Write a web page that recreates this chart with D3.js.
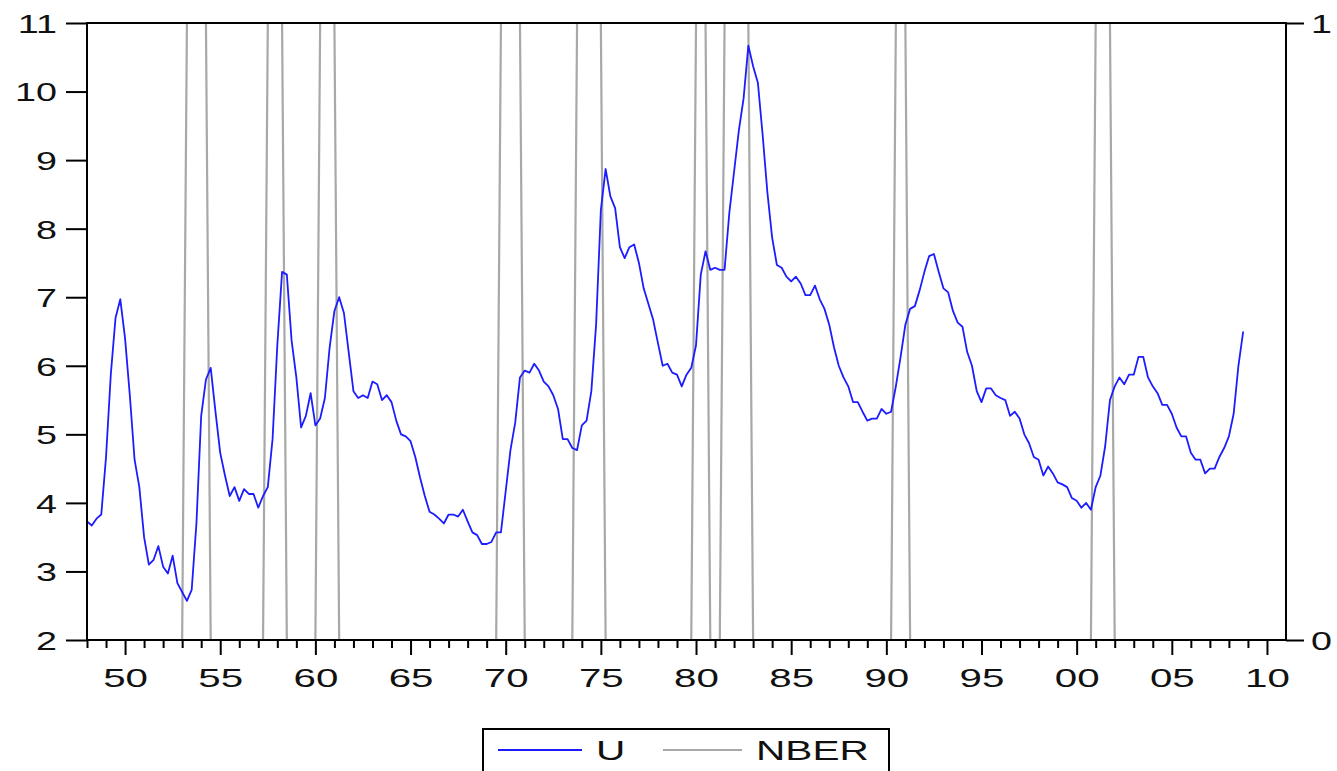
<!DOCTYPE html>
<html>
<head>
<meta charset="utf-8">
<title>U and NBER</title>
<style type="text/css">
    body{
        margin: 0;
        background: #fff;
    }
    text{
        font-family: "Liberation Sans", Arial, sans-serif;
        fill: #111;
    }
    .tick line{
        stroke: #000;
        stroke-width: 2px;
    }
</style>
</head>
<body>
<div id="chart"></div>

<script src="https://cdn.jsdelivr.net/npm/d3@7"></script>
<script>
    // quarterly unemployment rate, 1948Q1 onwards
    var startYear = 1948;
    var unemployment = [
        3.73, 3.67, 3.77, 3.83,   // 1948
        4.67, 5.87, 6.70, 6.97,   // 1949
        6.40, 5.57, 4.63, 4.23,   // 1950
        3.50, 3.10, 3.17, 3.37,   // 1951
        3.07, 2.97, 3.23, 2.83,   // 1952
        2.70, 2.57, 2.73, 3.70,   // 1953
        5.27, 5.80, 5.97, 5.33,   // 1954
        4.73, 4.40, 4.10, 4.23,   // 1955
        4.03, 4.20, 4.13, 4.13,   // 1956
        3.93, 4.10, 4.23, 4.93,   // 1957
        6.30, 7.37, 7.33, 6.37,   // 1958
        5.83, 5.10, 5.27, 5.60,   // 1959
        5.13, 5.23, 5.53, 6.27,   // 1960
        6.80, 7.00, 6.77, 6.20,   // 1961
        5.63, 5.53, 5.57, 5.53,   // 1962
        5.77, 5.73, 5.50, 5.57,   // 1963
        5.47, 5.20, 5.00, 4.97,   // 1964
        4.90, 4.67, 4.37, 4.10,   // 1965
        3.87, 3.83, 3.77, 3.70,   // 1966
        3.83, 3.83, 3.80, 3.90,   // 1967
        3.73, 3.57, 3.53, 3.40,   // 1968
        3.40, 3.43, 3.57, 3.57,   // 1969
        4.17, 4.77, 5.17, 5.83,   // 1970
        5.93, 5.90, 6.03, 5.93,   // 1971
        5.77, 5.70, 5.57, 5.37,   // 1972
        4.93, 4.93, 4.80, 4.77,   // 1973
        5.13, 5.20, 5.63, 6.60,   // 1974
        8.27, 8.87, 8.47, 8.30,   // 1975
        7.73, 7.57, 7.73, 7.77,   // 1976
        7.50, 7.13, 6.90, 6.67,   // 1977
        6.33, 6.00, 6.03, 5.90,   // 1978
        5.87, 5.70, 5.87, 5.97,   // 1979
        6.30, 7.33, 7.67, 7.40,   // 1980
        7.43, 7.40, 7.40, 8.23,   // 1981
        8.83, 9.43, 9.90, 10.67,  // 1982
        10.37, 10.13, 9.37, 8.53, // 1983
        7.87, 7.47, 7.43, 7.30,   // 1984
        7.23, 7.30, 7.20, 7.03,   // 1985
        7.03, 7.17, 6.97, 6.83,   // 1986
        6.60, 6.27, 6.00, 5.83,   // 1987
        5.70, 5.47, 5.47, 5.33,   // 1988
        5.20, 5.23, 5.23, 5.37,   // 1989
        5.30, 5.33, 5.70, 6.13,   // 1990
        6.60, 6.83, 6.87, 7.10,   // 1991
        7.37, 7.60, 7.63, 7.37,   // 1992
        7.13, 7.07, 6.80, 6.63,   // 1993
        6.57, 6.20, 6.00, 5.63,   // 1994
        5.47, 5.67, 5.67, 5.57,   // 1995
        5.53, 5.50, 5.27, 5.33,   // 1996
        5.23, 5.00, 4.87, 4.67,   // 1997
        4.63, 4.40, 4.53, 4.43,   // 1998
        4.30, 4.27, 4.23, 4.07,   // 1999
        4.03, 3.93, 4.00, 3.90,   // 2000
        4.23, 4.40, 4.83, 5.50,   // 2001
        5.70, 5.83, 5.73, 5.87,   // 2002
        5.87, 6.13, 6.13, 5.83,   // 2003
        5.70, 5.60, 5.43, 5.43,   // 2004
        5.30, 5.10, 4.97, 4.97,   // 2005
        4.73, 4.63, 4.63, 4.43,   // 2006
        4.50, 4.50, 4.67, 4.80,   // 2007
        4.97, 5.30, 6.00, 6.50    // 2008
    ];

    // NBER recession quarters (first and last quarter equal to 1)
    var recessionStart = ["1953Q2", "1957Q3", "1960Q2", "1969Q4", "1973Q4", "1980Q1", "1981Q3", "1990Q3", "2001Q1"];
    var recessionEnd   = ["1954Q2", "1958Q2", "1961Q1", "1970Q4", "1975Q1", "1980Q3", "1982Q4", "1991Q1", "2001Q4"];

    var leftTicks = [2, 3, 4, 5, 6, 7, 8, 9, 10, 11];
    var rightTicks = [0, 1];
    var yearDomain = [1948, 2011];
    var seriesNames = ["U", "NBER"];
    var seriesColors = ["#1c1cff", "#a8a8a8"];

    var width = 1337, height = 771;
    var plotLeft = 87, plotRight = 1286, plotTop = 23, plotBottom = 640;

    var svg = d3.select("#chart").append("svg")
        .attr("width", width)
        .attr("height", height);

    var x = d3.scaleLinear().domain(yearDomain).range([plotLeft, plotRight]);
    var y = d3.scaleLinear().domain([2, 11]).range([plotBottom, plotTop]);
    var y2 = d3.scaleLinear().domain([0, 1]).range([plotBottom, plotTop]);

    function quarterIndex(s) {
        return (+s.slice(0, 4) - startYear) * 4 + (+s.slice(5) - 1);
    }

    // 0/1 recession dummy on the same quarters as the unemployment series
    var nber = unemployment.map(function (v, i) {
        for (var k = 0; k < recessionStart.length; k++) {
            if (i >= quarterIndex(recessionStart[k]) && i <= quarterIndex(recessionEnd[k])) return 1;
        }
        return 0;
    });

    var qx = function (d, i) { return x(startYear + i / 4); };

    svg.append("path")
        .datum(nber)
        .attr("fill", "none")
        .attr("stroke", seriesColors[1])
        .attr("stroke-width", 2.2)
        .attr("d", d3.line().x(qx).y(function (d) { return y2(d); }));

    svg.append("path")
        .datum(unemployment)
        .attr("fill", "none")
        .attr("stroke", seriesColors[0])
        .attr("stroke-width", 1.8)
        .attr("stroke-linejoin", "round")
        .attr("d", d3.line().x(qx).y(function (d) { return y(d); }));

    //  left axis
    var gl = svg.append("g")
        .attr("transform", "translate(" + plotLeft + ",0)")
        .call(d3.axisLeft(y).tickValues(leftTicks).tickSize(21).tickSizeOuter(0));
    gl.select(".domain").remove();
    gl.selectAll("text")
        .attr("x", 0).attr("dy", "0.36em")
        .attr("font-size", 26)
        .attr("transform", "translate(-30,0) scale(1.45,1)");

    //  right axis for the dummy
    var gr = svg.append("g")
        .attr("transform", "translate(" + plotRight + ",0)")
        .call(d3.axisRight(y2).tickValues(rightTicks).tickFormat(d3.format("d"))
            .tickSize(18).tickSizeOuter(0));
    gr.select(".domain").remove();
    gr.selectAll("text")
        .attr("x", 0).attr("dy", "0.36em")
        .attr("font-size", 26)
        .attr("transform", "translate(25,0) scale(1.45,1)");

    //  bottom axis: every year, longer tick and label every 5 years
    var years = d3.range(yearDomain[0], yearDomain[1]);
    var gb = svg.append("g")
        .attr("transform", "translate(0," + plotBottom + ")")
        .call(d3.axisBottom(x).tickValues(years).tickSize(8).tickSizeOuter(0)
            .tickFormat(function (d) { return d % 5 === 0 ? String(d).slice(2) : ""; }));
    gb.select(".domain").remove();
    gb.selectAll(".tick line")
        .attr("y2", function (d) { return d % 5 === 0 ? 15 : 8; });
    gb.selectAll("text")
        .attr("y", 0).attr("dy", 0)
        .attr("font-size", 26)
        .attr("transform", "translate(0,47) scale(1.55,1)");

    //  frame
    svg.append("rect")
        .attr("x", plotLeft).attr("y", plotTop)
        .attr("width", plotRight - plotLeft).attr("height", plotBottom - plotTop)
        .attr("fill", "none")
        .attr("stroke", "#000")
        .attr("stroke-width", 2);

    //  legend
    var legend = svg.append("g");
    legend.append("rect")
        .attr("x", 483).attr("y", 729)
        .attr("width", 406).attr("height", 60)
        .attr("fill", "#fff")
        .attr("stroke", "#000")
        .attr("stroke-width", 2);
    var items = [{x1: 498, x2: 582, tx: 596}, {x1: 663, x2: 742, tx: 756}];
    items.forEach(function (it, i) {
        legend.append("line")
            .attr("x1", it.x1).attr("x2", it.x2)
            .attr("y1", 750).attr("y2", 750)
            .attr("stroke", seriesColors[i])
            .attr("stroke-width", 2);
        legend.append("text")
            .attr("font-size", 28)
            .attr("transform", "translate(" + it.tx + ",760) scale(1.45,1)")
            .text(seriesNames[i]);
    });
</script>
</body>
</html>
